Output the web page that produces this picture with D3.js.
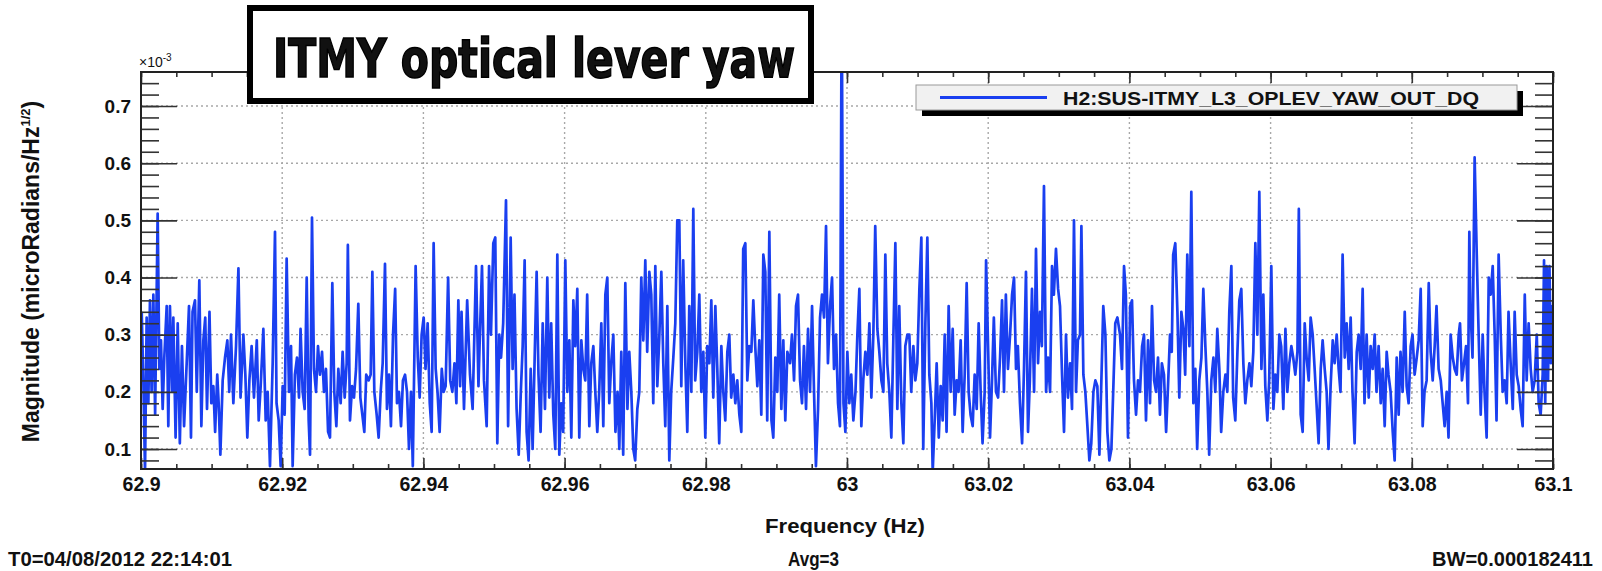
<!DOCTYPE html>
<html>
<head>
<meta charset="utf-8">
<script src="https://cdn.jsdelivr.net/npm/d3@7"></script>
<style>
  body { margin: 0; background: #fff; }
  svg { display: block; }
  text { font-family: "Liberation Sans", Arial, sans-serif; font-weight: bold; fill: #111; }
</style>
</head>
<body>
<svg id="chart"></svg>
<script>
const title = 'ITMY optical lever yaw';
const channel = 'H2:SUS-ITMY_L3_OPLEV_YAW_OUT_DQ';
const xTicks = [62.9, 62.92, 62.94, 62.96, 62.98, 63, 63.02, 63.04, 63.06, 63.08, 63.1];
const yTicks = [0.1, 0.2, 0.3, 0.4, 0.5, 0.6, 0.7];
const footer = ['T0=04/08/2012 22:14:01', 'Avg=3', 'BW=0.000182411'];

// start of the band, the offsets below are in mHz from here
const f0 = 62.9;
// [offset mHz, magnitude x1e-3]
const spectrum = [
[0.1,0.34],[0.33,0.22],[0.57,0.06],[0.8,0.33],[1.04,0.18],[1.27,0.36],[1.5,0.2],[1.75,0.37],[2.0,0.16],[2.36,0.512],[2.6,0.24],[2.83,0.29],[3.07,0.17],[3.3,0.26],[3.64,0.35],[3.87,0.14],[4.1,0.35],[4.4,0.2],[4.58,0.33],[4.9,0.12],[5.2,0.32],[5.5,0.11],[5.8,0.28],[6.1,0.14],[6.47,0.25],[6.8,0.35],[7.08,0.12],[7.3,0.34],[7.65,0.36],[7.9,0.2],[8.26,0.395],[8.55,0.14],[8.83,0.29],[9.1,0.33],[9.35,0.17],[9.7,0.34],[9.96,0.18],[10.25,0.21],[10.5,0.13],[10.8,0.23],[11.0,0.18],[11.24,0.09],[11.57,0.22],[11.9,0.26],[12.23,0.29],[12.5,0.2],[12.75,0.3],[13.08,0.18],[13.46,0.28],[13.8,0.416],[14.1,0.19],[14.5,0.3],[14.78,0.23],[15.06,0.12],[15.35,0.22],[15.67,0.28],[16.0,0.19],[16.4,0.29],[16.67,0.15],[16.95,0.21],[17.33,0.31],[17.66,0.15],[17.94,0.2],[18.27,0.07],[18.65,0.25],[18.98,0.48],[19.2,0.18],[19.5,0.15],[19.78,0.07],[20.07,0.21],[20.35,0.16],[20.63,0.433],[20.96,0.2],[21.25,0.28],[21.48,0.07],[21.8,0.23],[22.1,0.26],[22.38,0.19],[22.6,0.31],[22.9,0.2],[23.18,0.17],[23.47,0.4],[23.75,0.15],[23.94,0.09],[24.22,0.505],[24.5,0.24],[24.79,0.2],[25.07,0.28],[25.35,0.23],[25.64,0.27],[25.92,0.2],[26.2,0.24],[26.5,0.13],[26.77,0.12],[27.1,0.39],[27.38,0.2],[27.67,0.14],[27.95,0.24],[28.28,0.18],[28.56,0.27],[28.85,0.19],[29.13,0.25],[29.3,0.457],[29.6,0.15],[29.9,0.21],[30.17,0.19],[30.46,0.24],[30.78,0.354],[31.07,0.19],[31.35,0.16],[31.63,0.13],[31.9,0.23],[32.25,0.22],[32.53,0.23],[32.77,0.41],[33.05,0.2],[33.38,0.16],[33.66,0.12],[33.95,0.2],[34.23,0.25],[34.56,0.424],[34.84,0.17],[35.13,0.23],[35.4,0.14],[35.7,0.3],[36.0,0.38],[36.26,0.18],[36.54,0.2],[36.83,0.14],[37.1,0.22],[37.4,0.23],[37.68,0.2],[37.96,0.1],[38.24,0.2],[38.5,0.07],[38.9,0.42],[39.2,0.26],[39.47,0.19],[39.75,0.3],[40.04,0.33],[40.3,0.24],[40.6,0.32],[40.9,0.18],[41.17,0.13],[41.45,0.46],[41.74,0.24],[42.0,0.2],[42.3,0.13],[42.6,0.24],[42.87,0.2],[43.15,0.21],[43.5,0.4],[43.8,0.22],[44.1,0.2],[44.4,0.25],[44.67,0.18],[44.95,0.36],[45.2,0.21],
[45.4,0.34],[45.75,0.17],[46.2,0.36],[46.6,0.23],[46.97,0.17],[47.45,0.42],[47.8,0.21],[48.0,0.3],[48.3,0.42],[48.58,0.22],[48.96,0.14],[49.3,0.42],[49.57,0.3],[49.9,0.46],[50.18,0.47],[50.47,0.11],[50.75,0.3],[51.0,0.26],[51.3,0.32],[51.7,0.535],[52.0,0.14],[52.36,0.47],[52.64,0.24],[52.9,0.37],[53.2,0.17],[53.5,0.09],[53.8,0.2],[54.06,0.28],[54.34,0.43],[54.62,0.13],[54.9,0.08],[55.2,0.24],[55.47,0.1],[55.76,0.26],[56.04,0.41],[56.3,0.23],[56.6,0.13],[56.9,0.32],[57.22,0.17],[57.55,0.4],[57.83,0.19],[58.1,0.32],[58.4,0.16],[58.68,0.1],[58.97,0.44],[59.25,0.09],[59.53,0.18],[59.8,0.13],[60.1,0.43],[60.38,0.2],[60.67,0.29],[60.95,0.12],[61.24,0.36],[61.5,0.28],[61.8,0.38],[62.08,0.12],[62.37,0.29],[62.65,0.24],[62.93,0.22],[63.2,0.37],[63.5,0.14],[63.78,0.25],[64.07,0.28],[64.35,0.2],[64.63,0.13],[64.9,0.2],[65.2,0.32],[65.48,0.14],[65.77,0.37],[66.05,0.4],[66.33,0.18],[66.6,0.25],[66.9,0.3],[67.2,0.13],[67.5,0.2],[67.75,0.1],[68.03,0.27],[68.3,0.09],[68.6,0.39],[68.9,0.17],[69.16,0.27],[69.45,0.2],[69.73,0.1],[70.0,0.08],[70.3,0.17],[70.58,0.2],[70.86,0.4],[71.15,0.29],[71.43,0.43],[71.7,0.27],[72.0,0.41],[72.28,0.37],[72.56,0.18],[72.85,0.42],[73.13,0.21],[73.4,0.29],[73.7,0.41],[73.98,0.25],[74.26,0.14],[74.55,0.35],[74.83,0.08],[75.1,0.2],[75.4,0.26],[75.68,0.32],[75.96,0.5],[76.25,0.5],[76.53,0.21],[76.8,0.43],[77.1,0.25],[77.38,0.13],[77.66,0.35],[77.95,0.2],[78.23,0.52],[78.5,0.22],[78.8,0.27],[79.08,0.37],[79.36,0.2],[79.65,0.27],[79.93,0.12],[80.2,0.28],[80.5,0.25],[80.78,0.36],[81.06,0.19],[81.35,0.35],[81.63,0.24],[81.9,0.11],[82.2,0.28],[82.48,0.2],[82.76,0.15],[83.05,0.27],[83.33,0.3],[83.6,0.19],[83.9,0.23],[84.18,0.18],[84.46,0.22],[84.75,0.16],[85.03,0.13],[85.3,0.45],[85.6,0.46],[85.88,0.22],[86.16,0.28],[86.45,0.27],[86.73,0.36],[87.0,0.28],[87.3,0.21],[87.58,0.29],[87.86,0.16],[88.15,0.44],[88.43,0.41],[88.7,0.15],[89.0,0.48],[89.3,0.15],[89.56,0.12],[89.85,0.26],[90.13,0.2],[90.4,0.37],[90.7,0.17],[90.98,0.29],[91.26,0.15],[91.55,0.27],
[91.93,0.25],[92.2,0.3],[92.5,0.22],[92.78,0.35],[93.06,0.37],[93.35,0.22],[93.63,0.18],[93.9,0.28],[94.2,0.17],[94.48,0.31],[94.76,0.2],[95.05,0.35],[95.33,0.2],[95.6,0.07],[95.9,0.17],[96.18,0.33],[96.46,0.37],[96.75,0.33],[97.03,0.49],[97.3,0.25],[97.6,0.35],[97.88,0.4],[98.16,0.24],[98.45,0.3],[98.73,0.18],[99.0,0.14],[99.25,0.9],[99.5,0.18],[99.77,0.13],[100.05,0.27],[100.33,0.18],[100.6,0.23],[100.9,0.15],[101.2,0.2],[101.47,0.3],[101.75,0.38],[102.03,0.14],[102.3,0.22],[102.6,0.27],[102.88,0.23],[103.17,0.32],[103.45,0.19],[103.73,0.3],[104.0,0.49],[104.3,0.31],[104.58,0.27],[104.87,0.22],[105.15,0.2],[105.43,0.44],[105.7,0.25],[106.0,0.2],[106.28,0.12],[106.56,0.29],[106.85,0.46],[107.13,0.17],[107.4,0.35],[107.7,0.18],[107.98,0.11],[108.26,0.28],[108.55,0.3],[108.83,0.3],[109.1,0.2],[109.4,0.28],[109.68,0.22],[109.96,0.25],[110.25,0.38],[110.53,0.47],[110.8,0.1],[111.1,0.32],[111.38,0.47],[111.66,0.23],[111.95,0.18],[112.14,0.06],[112.42,0.15],[112.7,0.25],[113.0,0.12],[113.27,0.21],[113.55,0.15],[113.84,0.3],[114.1,0.13],[114.4,0.35],[114.68,0.2],[114.97,0.31],[115.25,0.16],[115.53,0.22],[115.8,0.2],[116.1,0.29],[116.38,0.13],[116.67,0.23],[116.95,0.39],[117.23,0.2],[117.5,0.16],[117.8,0.14],[118.08,0.23],[118.37,0.17],[118.65,0.32],[118.93,0.2],[119.2,0.11],[119.5,0.2],[119.7,0.43],[120.0,0.27],[120.26,0.12],[120.54,0.22],[120.8,0.33],[121.1,0.2],[121.4,0.19],[121.68,0.26],[121.96,0.36],[122.24,0.2],[122.5,0.37],[122.8,0.24],[123.1,0.3],[123.38,0.37],[123.66,0.4],[123.94,0.24],[124.2,0.28],[124.5,0.18],[124.8,0.11],[125.07,0.24],[125.35,0.41],[125.64,0.13],[125.9,0.22],[126.2,0.38],[126.5,0.2],[126.77,0.45],[127.06,0.25],[127.34,0.34],[127.6,0.28],[127.9,0.56],[128.2,0.2],[128.47,0.26],[128.76,0.2],[129.04,0.42],[129.3,0.37],[129.6,0.45],[129.9,0.38],[130.17,0.35],[130.46,0.23],[130.74,0.13],[131.02,0.3],[131.3,0.19],[131.6,0.25],[131.87,0.17],[132.15,0.5],[132.44,0.2],[132.7,0.29],[133.0,0.3],[133.2,0.49],[133.48,0.23],[133.76,0.2],[134.05,0.14],[134.33,0.08],[134.6,0.11],[134.9,0.2],[135.18,0.22],[135.46,0.21],[135.75,0.09],[136.03,0.22],[136.3,0.35],[136.6,0.3],[136.88,0.13],[137.16,0.08],[137.45,0.1],[137.73,0.21],[138.0,0.32],[138.3,0.33],
[138.67,0.3],[138.95,0.24],[139.24,0.42],[139.5,0.37],[139.8,0.12],[140.1,0.35],[140.37,0.36],[140.65,0.22],[140.94,0.16],[141.22,0.22],[141.5,0.2],[141.8,0.28],[142.07,0.3],[142.35,0.15],[142.64,0.29],[142.92,0.18],[143.2,0.35],[143.5,0.22],[143.77,0.2],[144.05,0.26],[144.33,0.16],[144.6,0.25],[144.9,0.23],[145.2,0.13],[145.47,0.21],[145.75,0.3],[146.0,0.27],[146.2,0.44],[146.5,0.46],[146.8,0.34],[147.07,0.19],[147.36,0.34],[147.64,0.31],[147.9,0.23],[148.2,0.44],[148.5,0.28],[148.77,0.55],[149.06,0.18],[149.34,0.24],[149.6,0.1],[149.9,0.22],[150.2,0.26],[150.47,0.38],[150.76,0.28],[151.04,0.2],[151.3,0.09],[151.6,0.22],[151.9,0.26],[152.17,0.2],[152.45,0.31],[152.74,0.24],[153.0,0.13],[153.3,0.2],[153.6,0.23],[153.87,0.2],[154.15,0.34],[154.44,0.42],[154.7,0.19],[155.0,0.15],[155.3,0.27],[155.57,0.36],[155.85,0.38],[156.14,0.25],[156.42,0.18],[156.7,0.22],[157.0,0.25],[157.27,0.21],[157.55,0.27],[157.84,0.46],[158.12,0.3],[158.4,0.55],[158.7,0.24],[158.97,0.37],[159.25,0.21],[159.54,0.15],[159.8,0.22],[160.1,0.42],[160.4,0.17],[160.67,0.23],[160.95,0.2],[161.24,0.3],[161.5,0.28],[161.8,0.17],[162.1,0.31],[162.37,0.2],[162.65,0.25],[162.94,0.28],[163.2,0.26],[163.5,0.23],[163.8,0.27],[164.0,0.52],[164.26,0.16],[164.54,0.13],[164.83,0.32],[165.1,0.26],[165.4,0.22],[165.67,0.33],[165.96,0.3],[166.24,0.24],[166.5,0.18],[166.8,0.11],[167.1,0.24],[167.37,0.29],[167.66,0.24],[167.94,0.2],[168.2,0.1],[168.5,0.21],[168.8,0.29],[169.07,0.25],[169.36,0.3],[169.64,0.24],[169.9,0.2],[170.2,0.44],[170.5,0.26],[170.77,0.32],[171.06,0.24],[171.34,0.33],[171.6,0.2],[171.9,0.11],[172.2,0.27],[172.47,0.3],[172.76,0.24],[173.04,0.38],[173.3,0.18],[173.6,0.3],[173.9,0.19],[174.17,0.28],[174.46,0.24],[174.74,0.3],[175.0,0.2],[175.3,0.28],[175.6,0.18],[175.87,0.24],[176.16,0.14],[176.44,0.27],[176.7,0.23],[177.0,0.2],[177.3,0.13],[177.57,0.08],[177.86,0.26],[178.14,0.16],[178.4,0.27],[178.7,0.2],[179.0,0.34],[179.27,0.21],[179.55,0.18],[179.84,0.28],[180.1,0.3],[180.4,0.23],[180.7,0.26],[180.97,0.29],[181.26,0.38],[181.54,0.14],[181.8,0.2],[182.1,0.22],[182.4,0.39],[182.67,0.27],[182.96,0.22],[183.24,0.28],[183.5,0.35],[183.8,0.24],[184.1,0.22],[184.37,0.18],[184.65,0.14],[184.94,0.2],[185.2,0.12],[185.5,0.3],[185.8,0.26],[186.07,0.24],[186.36,0.23],[186.64,0.3],
[186.83,0.32],[187.1,0.22],[187.4,0.25],[187.68,0.28],[187.96,0.18],[188.15,0.48],[188.3,0.35],[188.6,0.26],[188.9,0.61],[189.2,0.44],[189.47,0.3],[189.76,0.16],[190.04,0.3],[190.3,0.2],[190.6,0.12],[190.9,0.4],[191.17,0.37],[191.46,0.42],[191.74,0.3],[192.0,0.15],[192.3,0.44],[192.6,0.3],[192.87,0.2],[193.15,0.22],[193.44,0.18],[193.7,0.34],[194.0,0.25],[194.3,0.17],[194.57,0.34],[194.86,0.23],[195.14,0.21],[195.42,0.17],[195.7,0.14],[196.0,0.37],[196.27,0.22],[196.55,0.32],[196.84,0.24],[197.12,0.2],[197.4,0.22],[197.7,0.3],[197.97,0.18],[198.25,0.16],[198.54,0.23],[198.73,0.43],[198.9,0.18],[199.1,0.42],[199.3,0.22],[199.5,0.42],[199.7,0.25],[199.9,0.35],[200,0.3]
];

const width = 1602, height = 571;
const frame = {left: 141, right: 1553, top: 72, bottom: 469};
const blue = '#1a3ff0';

const svg = d3.select('#chart').attr('width', width).attr('height', height);

const xscale = d3.scaleLinear().domain([62.9, 63.1]).range([frame.left, frame.right]);
const yscale = d3.scaleLinear().domain([0.065, 0.7595]).range([frame.bottom, frame.top]);

const xMinor = d3.range(0, 41).map(i => 62.9 + i * 0.005);
const yMinor = d3.range(4, 38).map(i => i * 0.02);

// dotted grid
const grid = svg.append('g').attr('stroke', '#a8a8a8').attr('stroke-width', 1.4).attr('stroke-dasharray', '2,3');
grid.selectAll('.gx').data(xTicks.slice(1, -1)).join('line')
    .attr('x1', d => xscale(d)).attr('x2', d => xscale(d))
    .attr('y1', frame.top).attr('y2', frame.bottom);
grid.selectAll('.gy').data(yTicks).join('line')
    .attr('x1', frame.left).attr('x2', frame.right)
    .attr('y1', d => yscale(d)).attr('y2', d => yscale(d));

// the trace
svg.append('clipPath').attr('id', 'plotclip').append('rect')
    .attr('x', frame.left).attr('y', frame.top)
    .attr('width', frame.right - frame.left).attr('height', frame.bottom - frame.top);

const line = d3.line()
    .x(d => xscale(f0 + d[0] / 1000))
    .y(d => yscale(d[1]));

svg.append('path')
    .attr('clip-path', 'url(#plotclip)')
    .attr('d', line(spectrum))
    .attr('fill', 'none')
    .attr('stroke', blue)
    .attr('stroke-width', 2.7)
    .attr('stroke-linejoin', 'round');

// axes, ROOT style ticks pointing inwards on all four sides
function ticks(axis, values, size, transform) {
    const g = svg.append('g').attr('transform', transform)
        .call(axis.tickValues(values).tickSize(size).tickFormat(''));
    g.select('.domain').remove();
    g.selectAll('line').attr('stroke', '#333').attr('stroke-width', 1.6);
    return g;
}
ticks(d3.axisBottom(xscale), xMinor, -5, `translate(0,${frame.bottom})`);
ticks(d3.axisBottom(xscale), xTicks, -11, `translate(0,${frame.bottom})`);
ticks(d3.axisTop(xscale), xMinor, -5, `translate(0,${frame.top})`);
ticks(d3.axisTop(xscale), xTicks, -11, `translate(0,${frame.top})`);
ticks(d3.axisLeft(yscale), yMinor, -18, `translate(${frame.left},0)`);
ticks(d3.axisLeft(yscale), yTicks, -36, `translate(${frame.left},0)`);
ticks(d3.axisRight(yscale), yMinor, -18, `translate(${frame.right},0)`);
ticks(d3.axisRight(yscale), yTicks, -36, `translate(${frame.right},0)`);

svg.append('rect')
    .attr('x', frame.left).attr('y', frame.top)
    .attr('width', frame.right - frame.left).attr('height', frame.bottom - frame.top)
    .attr('fill', 'none').attr('stroke', '#222').attr('stroke-width', 2);

// tick labels
const xlab = svg.append('g').attr('transform', `translate(0,${frame.bottom})`)
    .call(d3.axisBottom(xscale).tickValues(xTicks).tickSize(0).tickPadding(8).tickFormat(d3.format('')));
xlab.select('.domain').remove();
xlab.selectAll('text').attr('font-size', 19.5).attr('font-family', null).attr('fill', '#111');

const ylab = svg.append('g').attr('transform', `translate(${frame.left},0)`)
    .call(d3.axisLeft(yscale).tickValues(yTicks).tickSize(0).tickPadding(10).tickFormat(d3.format('.1f')));
ylab.select('.domain').remove();
ylab.selectAll('text').attr('font-size', 19).attr('font-family', null).attr('fill', '#111');

const exp = svg.append('text').attr('x', frame.left - 2).attr('y', 67).attr('font-size', 14).style('font-weight', 'normal');
exp.append('tspan').text('\u00d710');
exp.append('tspan').attr('dy', -6).attr('font-size', 10).text('-3');

// axis titles
const ytitle = svg.append('text')
    .attr('transform', `translate(39,${(frame.top + frame.bottom) / 2 + 1}) rotate(-90)`)
    .attr('text-anchor', 'middle').attr('font-size', 23);
ytitle.append('tspan').text('Magnitude (microRadians/Hz');
ytitle.append('tspan').attr('dy', -9).attr('font-size', 13).text('1/2');
ytitle.append('tspan').attr('dy', 9).text(')');

svg.append('text').attr('x', 845).attr('y', 533).attr('text-anchor', 'middle')
    .attr('font-size', 21).attr('textLength', 160).attr('lengthAdjust', 'spacingAndGlyphs')
    .text('Frequency (Hz)');

// footer line
svg.append('text').attr('x', 8).attr('y', 566).attr('font-size', 21)
    .attr('textLength', 224).attr('lengthAdjust', 'spacingAndGlyphs').text(footer[0]);
svg.append('text').attr('x', 788).attr('y', 566).attr('font-size', 21)
    .attr('textLength', 51).attr('lengthAdjust', 'spacingAndGlyphs').text(footer[1]);
svg.append('text').attr('x', 1432).attr('y', 566).attr('font-size', 21)
    .attr('textLength', 161).attr('lengthAdjust', 'spacingAndGlyphs').text(footer[2]);

// legend
const legend = svg.append('g');
legend.append('rect').attr('x', 922).attr('y', 91).attr('width', 601).attr('height', 25).attr('fill', '#000');
legend.append('rect').attr('x', 916).attr('y', 85).attr('width', 601).attr('height', 25)
    .attr('fill', '#f1f1f1').attr('stroke', '#999').attr('stroke-width', 1);
legend.append('line').attr('x1', 940).attr('x2', 1047).attr('y1', 97.5).attr('y2', 97.5)
    .attr('stroke', blue).attr('stroke-width', 3);
legend.append('text').attr('x', 1063).attr('y', 104.5).attr('font-size', 19)
    .attr('textLength', 416).attr('lengthAdjust', 'spacingAndGlyphs').text(channel);

// title box
svg.append('rect').attr('x', 250).attr('y', 8).attr('width', 561).attr('height', 93)
    .attr('fill', '#fff').attr('stroke', '#000').attr('stroke-width', 6);
svg.append('text').attr('x', 273).attr('y', 77)
    .style('font-family', '"Liberation Sans Narrow", "DejaVu Sans Condensed", "Liberation Sans", sans-serif')
    .style('font-weight', 900).attr('font-size', 54)
    .attr('fill', '#000').attr('stroke', '#000').attr('stroke-width', 1.5)
    .attr('textLength', 522).attr('lengthAdjust', 'spacingAndGlyphs')
    .text(title);
</script>
</body>
</html>
